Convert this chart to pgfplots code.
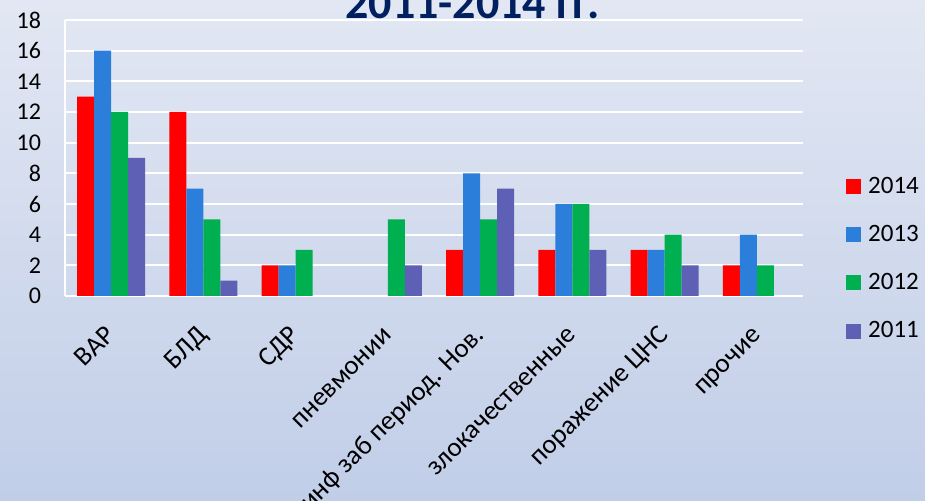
\documentclass[border=0pt]{standalone}
\usepackage{fontspec}
\setmainfont{Carlito}
\usepackage{pgfplots}
\pgfplotsset{compat=1.18}

\definecolor{c2014}{RGB}{255,0,0}
\definecolor{c2013}{RGB}{43,127,218}
\definecolor{c2012}{RGB}{0,176,80}
\definecolor{c2011}{RGB}{93,96,180}
\definecolor{titleblue}{HTML}{002060}
\definecolor{bgtop}{RGB}{226,231,243}
\definecolor{bgbot}{RGB}{193,206,232}

\begin{document}
\begin{tikzpicture}
% page of 925x501 px at 0.5pt per px
\path[use as bounding box] (0,0) rectangle (462.5pt,250.5pt);
\clip (0,0) rectangle (462.5pt,250.5pt);
\fill[top color=bgtop, bottom color=bgbot] (0,0) rectangle (462.5pt,250.5pt);

\node[anchor=base, font=\fontsize{23}{27}\selectfont\bfseries, text=titleblue]
  at (236.25pt,241pt) {2011-2014 гг.};

\begin{axis}[
    at={(32.5pt,102.5pt)}, anchor=south west,
    scale only axis,
    width=369pt, height=138pt,
    ybar=0pt,
    bar width=8.5pt,
    xmin=-0.5, xmax=7.5,
    ymin=0, ymax=18,
    ytick={0,2,...,18},
    xtick={0,...,7},
    xticklabels={ВАР,БЛД,СДР,пневмонии,инф заб период. Нов.,злокачественные,поражение ЦНС,прочие},
    major tick length=0pt,
    axis x line*=bottom,
    axis y line*=left,
    axis line style={white, line width=0.9pt, -},
    ymajorgrids=true,
    grid style={white, line width=0.9pt},
    tick label style={text=black},
    yticklabel style={font=\fontsize{12}{14}\selectfont, anchor=east, xshift=-8.5pt},
    xticklabel style={font=\fontsize{13.5}{16}\selectfont, rotate=45, anchor=north east,
        text height=0.75em, text depth=0.25em, yshift=-5pt, xshift=-9pt},
    /pgf/number format/assume math mode=true,
    legend style={
        at={(1.058,0.433)}, anchor=north west,
        draw=none, fill=none,
        font=\fontsize{12.5}{15}\selectfont,
        row sep=14.5pt, column sep=3.5pt,
        inner sep=0pt,
        nodes={inner sep=0pt},
    },
    legend cell align=left,
    legend image code/.code={\fill[#1,draw=none] (0pt,-3.75pt) rectangle (7.5pt,3.75pt);},
]
\addplot[fill=c2014, draw=none] coordinates {(0,13) (1,12) (2,2) (4,3) (5,3) (6,3) (7,2)};
\addplot[fill=c2013, draw=none] coordinates {(0,16) (1,7) (2,2) (4,8) (5,6) (6,3) (7,4)};
\addplot[fill=c2012, draw=none] coordinates {(0,12) (1,5) (2,3) (3,5) (4,5) (5,6) (6,4) (7,2)};
\addplot[fill=c2011, draw=none] coordinates {(0,9) (1,1) (3,2) (4,7) (5,3) (6,2)};
\legend{2014,2013,2012,2011}
\end{axis}
\end{tikzpicture}
\end{document}
